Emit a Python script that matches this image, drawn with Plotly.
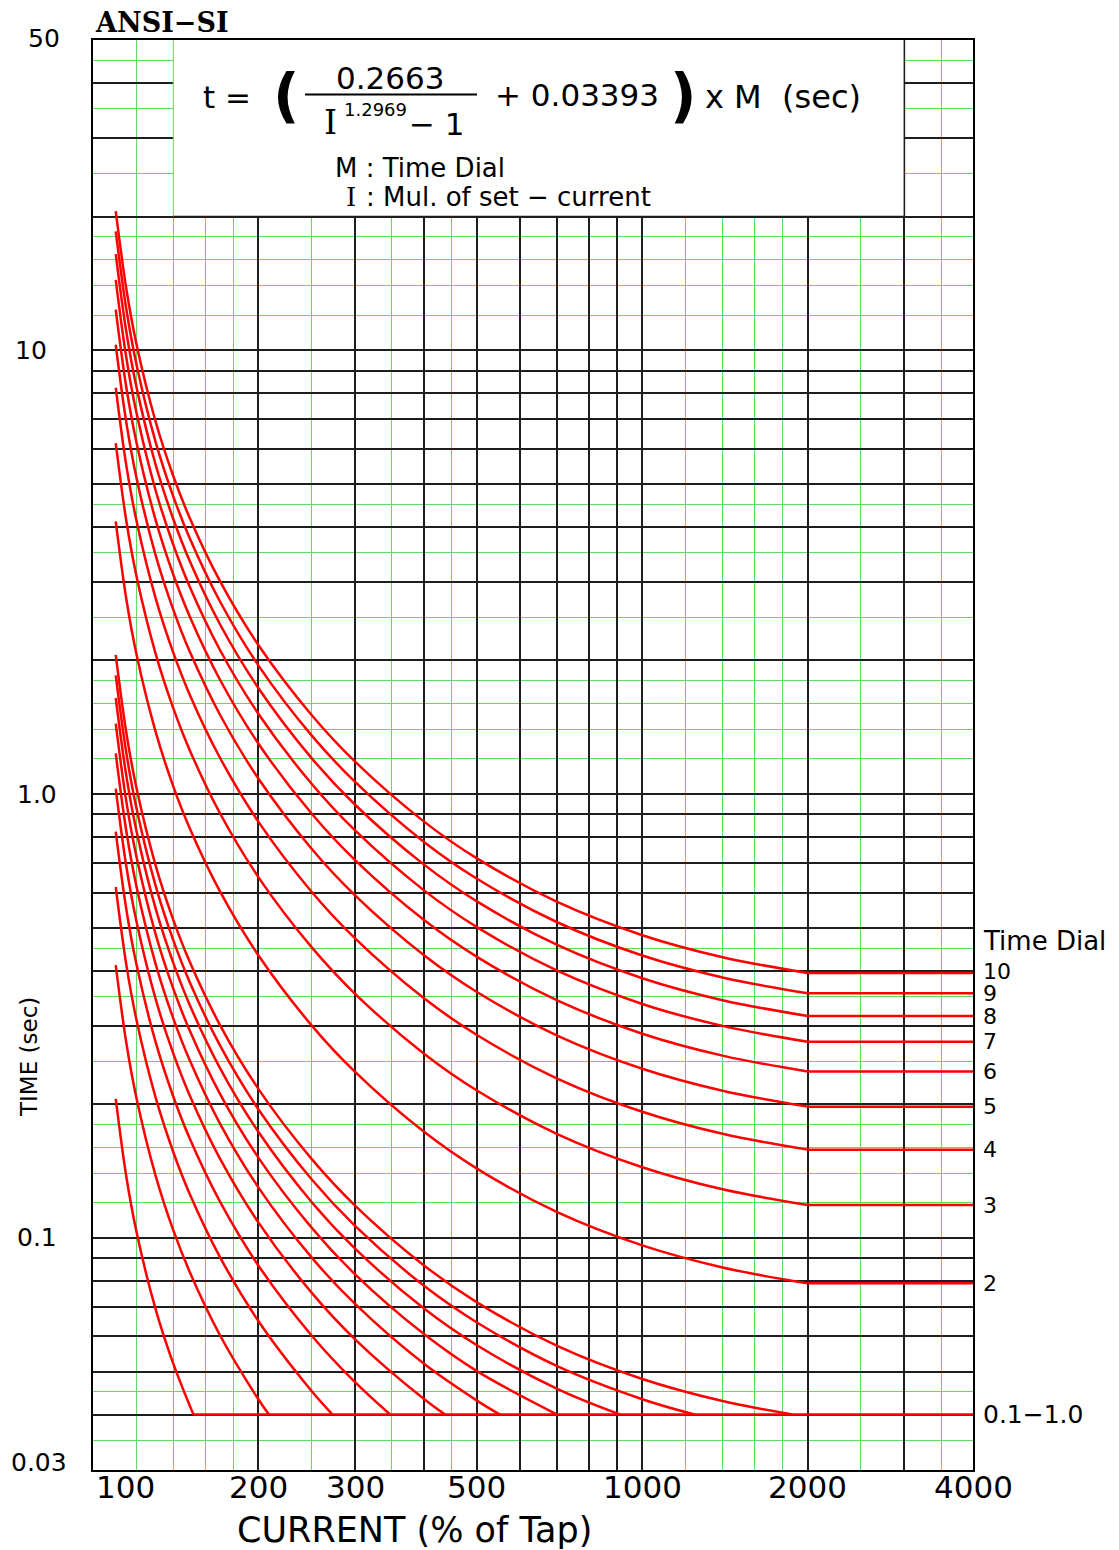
import math
import plotly.graph_objects as go

# ---------------- data ----------------
current_pct = [110, 115, 120, 130, 140, 150, 170, 200, 250, 300, 400, 500, 700, 1000, 1400, 2000]
current_max_pct = 4000
min_time = 0.04

dial_upper = [2, 3, 4, 5, 6, 7, 8, 9, 10]
time_dial_2 = [4.116, 2.748, 2.065, 1.382, 1.041, 0.8376, 0.6058, 0.4334, 0.3013, 0.2366, 0.1736, 0.1433, 0.1143, 0.0962, 0.0858, 0.0790]
time_dial_3 = [6.174, 4.122, 3.097, 2.073, 1.562, 1.256, 0.9087, 0.6501, 0.4520, 0.3548, 0.2604, 0.2149, 0.1714, 0.1443, 0.1287, 0.1186]
time_dial_4 = [8.232, 5.496, 4.129, 2.764, 2.083, 1.675, 1.212, 0.8668, 0.6026, 0.4731, 0.3472, 0.2865, 0.2286, 0.1924, 0.1716, 0.1581]
time_dial_5 = [10.29, 6.870, 5.161, 3.455, 2.604, 2.094, 1.515, 1.084, 0.7533, 0.5914, 0.4340, 0.3582, 0.2857, 0.2405, 0.2146, 0.1976]
time_dial_6 = [12.35, 8.244, 6.194, 4.146, 3.124, 2.513, 1.817, 1.300, 0.9039, 0.7097, 0.5208, 0.4298, 0.3428, 0.2885, 0.2575, 0.2371]
time_dial_7 = [14.41, 9.618, 7.226, 4.837, 3.645, 2.932, 2.120, 1.517, 1.055, 0.8280, 0.6076, 0.5014, 0.4000, 0.3366, 0.3004, 0.2766]
time_dial_8 = [16.46, 10.99, 8.258, 5.528, 4.166, 3.350, 2.423, 1.734, 1.205, 0.9462, 0.6944, 0.5730, 0.4571, 0.3847, 0.3433, 0.3162]
time_dial_9 = [18.52, 12.37, 9.291, 6.219, 4.686, 3.769, 2.726, 1.950, 1.356, 1.065, 0.7812, 0.6447, 0.5143, 0.4328, 0.3862, 0.3557]
time_dial_10 = [20.58, 13.74, 10.32, 6.910, 5.207, 4.188, 3.029, 2.167, 1.507, 1.183, 0.8680, 0.7163, 0.5714, 0.4809, 0.4291, 0.3952]

dial_lower = [0.1, 0.2, 0.3, 0.4, 0.5, 0.6, 0.7, 0.8, 0.9, 1.0]
lower_pickup_pct = [152.4, 209.1, 273.0, 347.5, 437.5, 550.5, 700.0, 911.6, 1245.1, 1878.2]
time_dial_0_1 = [0.2058, 0.1374, 0.1032, 0.0691, 0.0521, 0.0419]
time_dial_0_2 = [0.4116, 0.2748, 0.2065, 0.1382, 0.1041, 0.0838, 0.0606, 0.0433]
time_dial_0_3 = [0.6174, 0.4122, 0.3097, 0.2073, 0.1562, 0.1256, 0.0909, 0.0650, 0.0452]
time_dial_0_4 = [0.8232, 0.5496, 0.4129, 0.2764, 0.2083, 0.1675, 0.1212, 0.0867, 0.0603, 0.0473]
time_dial_0_5 = [1.029, 0.6870, 0.5161, 0.3455, 0.2604, 0.2094, 0.1515, 0.1084, 0.0753, 0.0591, 0.0434]
time_dial_0_6 = [1.235, 0.8244, 0.6194, 0.4146, 0.3124, 0.2513, 0.1817, 0.1300, 0.0904, 0.0710, 0.0521, 0.0430]
time_dial_0_7 = [1.441, 0.9618, 0.7226, 0.4837, 0.3645, 0.2932, 0.2120, 0.1517, 0.1055, 0.0828, 0.0608, 0.0501]
time_dial_0_8 = [1.646, 1.099, 0.8258, 0.5528, 0.4166, 0.3350, 0.2423, 0.1734, 0.1205, 0.0946, 0.0694, 0.0573, 0.0457]
time_dial_0_9 = [1.852, 1.237, 0.9291, 0.6219, 0.4686, 0.3769, 0.2726, 0.1950, 0.1356, 0.1065, 0.0781, 0.0645, 0.0514, 0.0433]
time_dial_1_0 = [2.058, 1.374, 1.032, 0.6910, 0.5207, 0.4188, 0.3029, 0.2167, 0.1507, 0.1183, 0.0868, 0.0716, 0.0571, 0.0481, 0.0429]

x_tick_vals = [100, 200, 300, 500, 1000, 2000, 4000]
x_tick_text = ["100", "200", "300", "500", "1000", "2000", "4000"]
y_tick_vals = [50, 10, 1.0, 0.1, 0.03]
y_tick_text = ["50", "10", "1.0", "0.1", "0.03"]

x_grid_major = [100, 200, 300, 400, 500, 600, 700, 800, 900, 1000, 2000, 3000, 4000]
x_grid_minor = [120, 140, 160, 180, 250, 350, 450, 1200, 1400, 1600, 1800, 2500, 3500]
y_grid_major = [0.03, 0.04, 0.05, 0.06, 0.07, 0.08, 0.09, 0.1, 0.2, 0.3, 0.4, 0.5, 0.6, 0.7, 0.8, 0.9,
                1, 2, 3, 4, 5, 6, 7, 8, 9, 10, 20, 30, 40, 50]
y_grid_minor = [0.035, 0.045, 0.12, 0.14, 0.16, 0.18, 0.25, 0.35, 0.45,
                1.2, 1.4, 1.6, 1.8, 2.5, 3.5, 4.5, 12, 14, 16, 18, 25, 35, 45]

# ---------------- figure ----------------
PAGE_OFF = 8                      # body margin of the html page
W, H = 1119 - PAGE_OFF, 1550 - PAGE_OFF
PLOT_L, PLOT_R, PLOT_T, PLOT_B = 93, 973, 40, 1470   # page pixels of plot area
L, T = PLOT_L - PAGE_OFF, PLOT_T - PAGE_OFF
R, B = 1119 - PLOT_R, 1550 - PLOT_B
PW, PH = PLOT_R - PLOT_L, PLOT_B - PLOT_T

RED = "#ff0000"
BLACK_GRID = "#1e1e1e"
GREEN = "#5fdc5f"
FONT = "DejaVu Sans"


def pxx(p):
    return (p - PLOT_L) / PW


def pxy(p):
    return (PLOT_B - p) / PH


fig = go.Figure()

upper_series = [time_dial_2, time_dial_3, time_dial_4, time_dial_5, time_dial_6,
                time_dial_7, time_dial_8, time_dial_9, time_dial_10]
for m, t in zip(dial_upper, upper_series):
    fig.add_trace(go.Scatter(x=current_pct[:len(t)], y=t, mode="lines",
                             line=dict(color=RED, width=2.5, shape="spline", smoothing=1),
                             hoverinfo="skip", name=f"TD {m}"))
    fig.add_trace(go.Scatter(x=[current_pct[len(t) - 1], current_max_pct], y=[t[-1], t[-1]],
                             mode="lines", line=dict(color=RED, width=2.5),
                             hoverinfo="skip", showlegend=False))

lower_series = [time_dial_0_1, time_dial_0_2, time_dial_0_3, time_dial_0_4, time_dial_0_5,
                time_dial_0_6, time_dial_0_7, time_dial_0_8, time_dial_0_9, time_dial_1_0]
for m, t, xe in zip(dial_lower, lower_series, lower_pickup_pct):
    fig.add_trace(go.Scatter(x=current_pct[:len(t)] + [xe], y=t + [min_time], mode="lines",
                             line=dict(color=RED, width=2.5, shape="spline", smoothing=1),
                             hoverinfo="skip", name=f"TD {m}"))
fig.add_trace(go.Scatter(x=[lower_pickup_pct[0], current_max_pct], y=[min_time, min_time],
                         mode="lines", line=dict(color=RED, width=2.5), hoverinfo="skip"))

fig.update_layout(
    width=W, height=H, margin=dict(l=L, r=R, t=T, b=B, autoexpand=False),
    paper_bgcolor="white", plot_bgcolor="white", showlegend=False,
    font=dict(family=FONT, color="black"),
)
fig.update_xaxes(
    type="log", range=[math.log10(100), math.log10(4000)],
    tickmode="array", tickvals=x_grid_major, showticklabels=False, ticks="",
    showgrid=True, gridcolor=BLACK_GRID, gridwidth=1.6,
    minor=dict(tickmode="array", tickvals=x_grid_minor, showgrid=True, gridcolor=GREEN, gridwidth=1, ticks=""),
    showline=True, linecolor="black", linewidth=2.2, mirror=True, zeroline=False,
)
fig.update_yaxes(
    type="log", range=[math.log10(0.03), math.log10(50)],
    tickmode="array", tickvals=y_grid_major, showticklabels=False, ticks="",
    showgrid=True, gridcolor=BLACK_GRID, gridwidth=1.6,
    minor=dict(tickmode="array", tickvals=y_grid_minor, showgrid=True, gridcolor=GREEN, gridwidth=1, ticks=""),
    showline=True, linecolor="black", linewidth=2.2, mirror=True, zeroline=False,
)

# formula box (covers the grid)
shapes = [
    dict(type="rect", xref="x", yref="y", x0=140, x1=3000, y0=20, y1=50,
         fillcolor="white", line=dict(width=0), layer="between"),
    dict(type="line", xref="x", yref="y", x0=140, x1=140, y0=20, y1=50,
         line=dict(color=GREEN, width=1), layer="between"),
    dict(type="line", xref="x", yref="y", x0=3000, x1=3000, y0=20, y1=50,
         line=dict(color=BLACK_GRID, width=1.6), layer="between"),
    dict(type="line", xref="x", yref="y", x0=140, x1=3000, y0=20, y1=20,
         line=dict(color=BLACK_GRID, width=1.6), layer="between"),
    # fraction bar
    dict(type="line", xref="paper", yref="paper", x0=pxx(305), x1=pxx(477), y0=pxy(94.5), y1=pxy(94.5),
         line=dict(color="black", width=2), layer="above"),
]
fig.update_layout(shapes=shapes)

ann = []


def text(s, xp, yp, size, anchor="center", family=FONT, **kw):
    ann.append(dict(text=s, xref="paper", yref="paper", x=pxx(xp), y=pxy(yp),
                    xanchor=anchor, yanchor="middle", showarrow=False,
                    font=dict(family=family, size=size, color="black"), **kw))


# title
text("<b>ANSI−SI</b>", 93, 22, 27, anchor="left", family="DejaVu Serif")
# formula
text("t =", 227, 97, 31)
text("<b>(</b>", 286, 96, 58)
text("0.2663", 390, 78, 31)
text("I", 330, 123, 33, family="DejaVu Serif")
text("1.2969", 375, 109, 18)
text("− 1", 437, 124, 31)
text("+ 0.03393", 577, 95, 31)
text("<b>)</b>", 683, 96, 58)
text("x M  (sec)", 783, 97, 32)
text("M : Time Dial", 333, 168, 26, anchor="left")
text("I", 351, 197, 26, family="DejaVu Serif")
text(": Mul. of set − current", 364, 197, 26, anchor="left")
# right side labels
text("Time Dial", 981, 941, 26, anchor="left")
for m, t in zip(dial_upper, upper_series):
    ann.append(dict(text=str(m), xref="paper", x=1, xshift=8, yref="y", y=math.log10(t[-1]),
                    yshift=2 if m == dial_upper[-1] else 0,
                    xanchor="left", yanchor="middle", showarrow=False,
                    font=dict(family=FONT, size=22, color="black")))
ann.append(dict(text=f"{dial_lower[0]}−{dial_lower[-1]}", xref="paper", x=1, xshift=8,
                yref="y", y=math.log10(min_time), xanchor="left", yanchor="middle",
                showarrow=False, font=dict(family=FONT, size=25, color="black")))

# axis tick labels
x_shift = {"100": 32}
for v, s in zip(x_tick_vals, x_tick_text):
    ann.append(dict(text=s, xref="x", x=math.log10(v), xshift=x_shift.get(s, 0),
                    yref="paper", y=pxy(1487), xanchor="center", yanchor="middle",
                    showarrow=False, font=dict(family=FONT, size=31, color="black")))
y_center = {"50": 44, "10": 31, "1.0": 37, "0.1": 37, "0.03": 39}
y_shift = {"50": 2, "0.03": 8}
for v, s in zip(y_tick_vals, y_tick_text):
    ann.append(dict(text=s, xref="paper", x=pxx(y_center[s]), yref="y", y=math.log10(v),
                    yshift=y_shift.get(s, 0), xanchor="center", yanchor="middle",
                    showarrow=False, font=dict(family=FONT, size=25, color="black")))

# axis titles
text("CURRENT (% of Tap)", 414, 1530, 35)
text("TIME (sec)", 29, 1057, 23, textangle=-90)

fig.update_layout(annotations=ann)
fig.write_html("out.html")
